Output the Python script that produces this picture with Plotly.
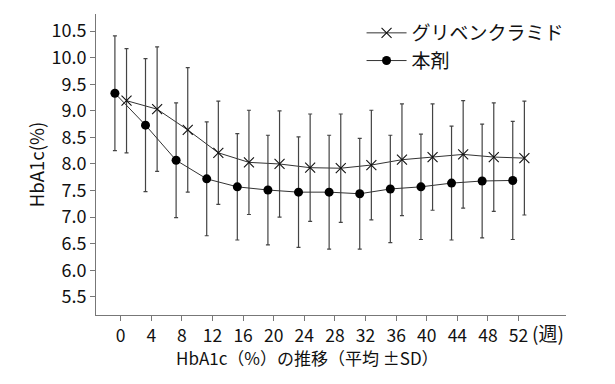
import plotly.graph_objects as go
import numpy as np

weeks = [0, 4, 8, 12, 16, 20, 24, 28, 32, 36, 40, 44, 48, 52]
glib_mean = [9.19, 9.03, 8.64, 8.21, 8.03, 8.00, 7.93, 7.92, 7.98, 8.08, 8.13, 8.18, 8.13, 8.11]
glib_sd = [0.98, 1.17, 1.17, 0.97, 0.98, 1.00, 1.01, 1.02, 1.03, 1.05, 1.00, 1.01, 1.02, 1.07]
hon_mean = [9.33, 8.73, 8.07, 7.72, 7.57, 7.51, 7.47, 7.47, 7.44, 7.53, 7.57, 7.64, 7.68, 7.69]
hon_sd = [1.08, 1.25, 1.08, 1.07, 1.00, 1.03, 1.04, 1.07, 1.04, 1.01, 0.99, 1.07, 1.07, 1.11]
y_ticks = [5.5, 6.0, 6.5, 7.0, 7.5, 8.0, 8.5, 9.0, 9.5, 10.0, 10.5]

DODGE = 0.76
FONT = "Noto Sans CJK JP"

fig = go.Figure()
fig.add_trace(go.Scatter(
    x=np.array(weeks) + DODGE, y=glib_mean, name="グリベンクラミド",
    mode="lines+markers",
    line=dict(color="#333333", width=1),
    marker=dict(symbol="x-thin", size=10, color="#111111", line=dict(width=1.1, color="#111111")),
    error_y=dict(type="data", array=glib_sd, visible=True, color="#444444", thickness=1.2, width=2),
))
fig.add_trace(go.Scatter(
    x=np.array(weeks) - DODGE, y=hon_mean, name="本剤",
    mode="lines+markers",
    line=dict(color="#333333", width=1),
    marker=dict(symbol="circle", size=9, color="#000000"),
    error_y=dict(type="data", array=hon_sd, visible=True, color="#444444", thickness=1.2, width=2),
))

fig.update_layout(
    width=615, height=384,
    margin=dict(l=96, r=49, t=14, b=69, autoexpand=False),
    paper_bgcolor="white", plot_bgcolor="white",
    font=dict(family=FONT, size=17, color="#111111"),
    showlegend=True,
    legend=dict(x=0.565, y=1.0, xanchor="left", yanchor="top",
                bgcolor="rgba(0,0,0,0)", font=dict(size=19), itemwidth=40),
    xaxis=dict(range=[-3.23, 58.2], tickvals=weeks, ticktext=[str(w) for w in weeks],
               showline=True, linecolor="#777777", linewidth=1, ticks="outside",
               ticklen=5, tickcolor="#777777", showgrid=False, zeroline=False,
               tickfont=dict(size=17.5), automargin=False),
    yaxis=dict(range=[5.16, 10.82], tickvals=y_ticks, tickformat=".1f",
               showline=True, linecolor="#777777", linewidth=1, ticks="outside",
               ticklen=5, tickcolor="#777777", showgrid=False, zeroline=False,
               tickfont=dict(size=18), automargin=False,
               title=dict(text="HbA1c(%)", font=dict(size=18.5), standoff=1)),
    annotations=[
        dict(text="(週)", xref="paper", yref="paper", x=0.9234, xanchor="left", y=0,
             yanchor="middle", yshift=-17, showarrow=False, font=dict(size=19)),
        dict(text="HbA1c（%）の推移（平均 ±SD）", xref="paper", yref="paper", x=0.449, y=0,
             yanchor="middle", yshift=-42, showarrow=False, font=dict(size=17)),
    ],
)

fig.write_html("out.html", config={"displayModeBar": False},
               post_script="document.body.style.margin='0';")
